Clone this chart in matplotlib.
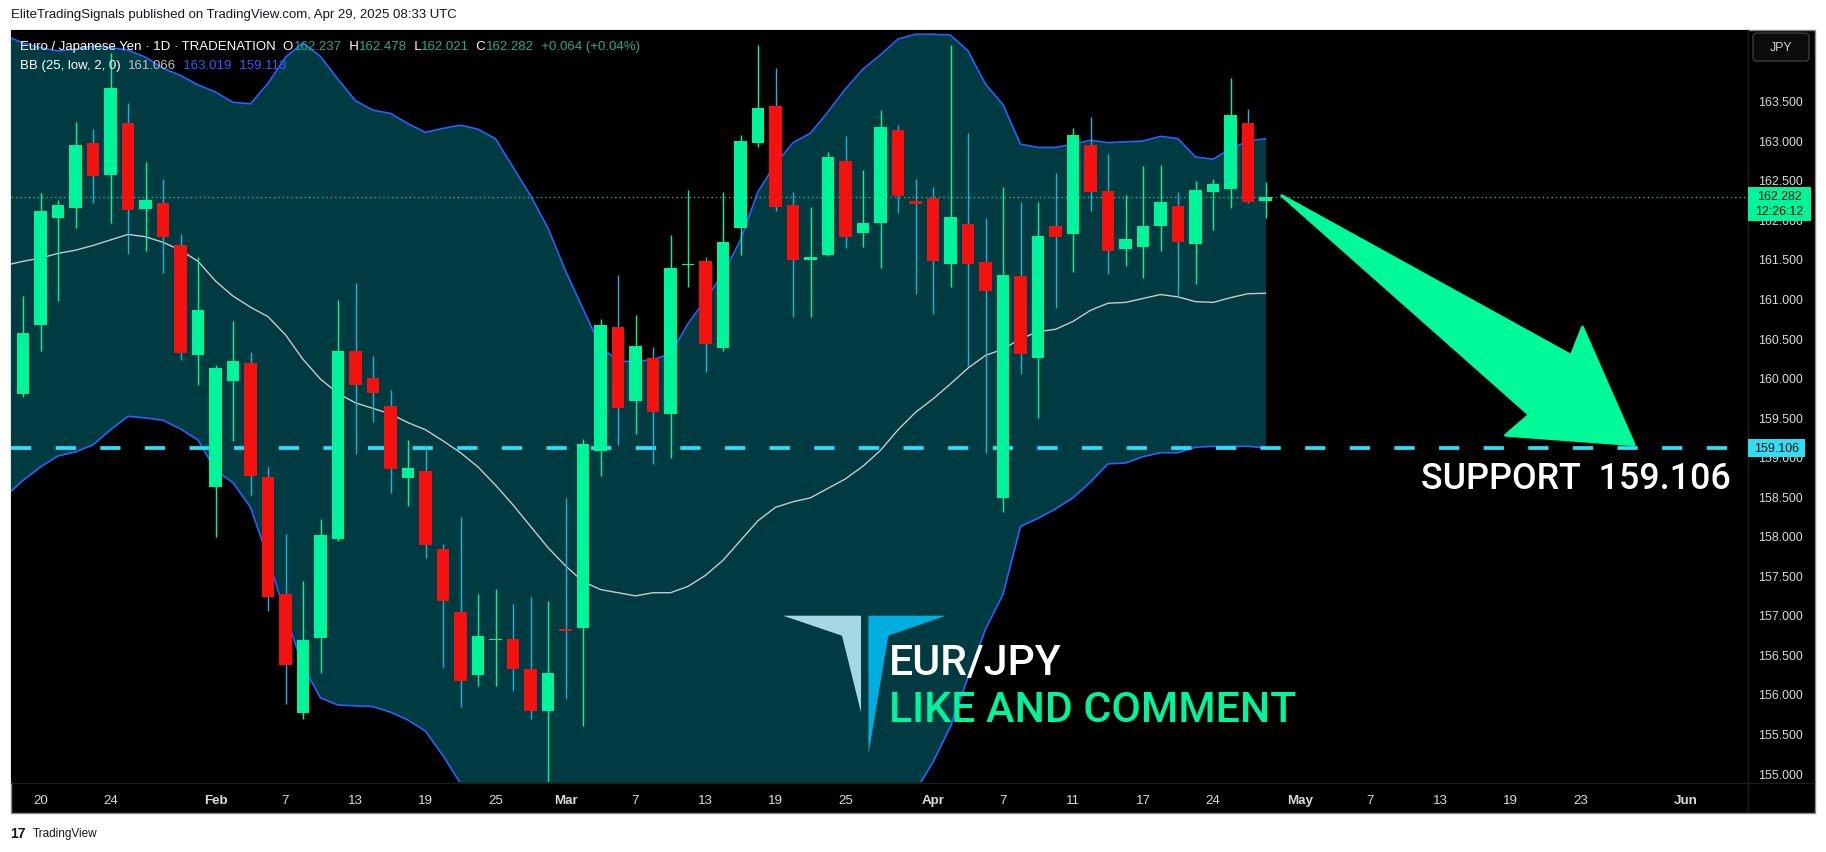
import numpy as np
import pandas as pd
import matplotlib
matplotlib.use('Agg')
import matplotlib.pyplot as plt
from matplotlib.patches import Polygon, Rectangle, FancyBboxPatch
from matplotlib.transforms import Affine2D
from matplotlib.ticker import FormatStrFormatter

plt.rcParams['font.family'] = ['Liberation Sans', 'DejaVu Sans']

W, H = 1826, 853

# EUR/JPY daily candles, 17 Jan .. 29 Apr 2025 (no bar on Good Friday)
opens = [159.79, 160.67, 162.02, 162.14, 162.97, 162.56, 163.22, 162.13, 162.21, 161.68,
         160.29, 158.62, 159.96, 160.18, 158.74, 157.26, 155.76, 156.71, 157.96, 160.34,
         159.99, 159.64, 158.73, 158.82, 157.83, 157.04, 156.24, 156.68, 156.70, 156.32,
         155.79, 156.82, 156.84, 159.07, 160.64, 159.70, 160.25, 159.54, 161.42, 161.47,
         160.37, 161.89, 162.97, 163.43, 162.18, 161.48, 161.55, 162.74, 161.83, 161.95,
         163.13, 162.23, 162.27, 161.43, 161.94, 161.46, 158.48, 161.28, 160.25, 161.92,
         161.81, 162.94, 162.36, 161.62, 161.65, 161.91, 162.17, 161.69, 162.35, 162.39,
         163.22, 162.237]
highs = [161.03, 162.33, 162.24, 163.23, 163.14, 164.10, 163.47, 162.72, 162.51, 161.81,
         161.52, 160.16, 160.71, 160.32, 158.87, 158.02, 157.43, 158.21, 160.98, 161.20,
         160.27, 159.84, 159.21, 159.14, 157.90, 158.24, 157.26, 157.33, 157.14, 157.22,
         157.18, 158.48, 159.22, 160.74, 161.30, 160.79, 160.39, 161.80, 162.37, 161.53,
         162.34, 163.07, 164.20, 163.91, 162.35, 162.16, 162.85, 163.05, 162.62, 163.38,
         163.19, 162.51, 162.41, 164.20, 163.09, 162.02, 162.41, 162.22, 162.22, 162.59,
         163.15, 163.30, 162.83, 162.31, 162.68, 162.69, 162.35, 162.48, 162.51, 163.79,
         163.40, 162.478]
lows = [159.75, 160.34, 160.97, 161.89, 162.21, 161.95, 161.56, 161.60, 161.32, 160.22,
        159.91, 157.99, 159.20, 158.51, 157.05, 155.87, 155.68, 156.27, 157.93, 159.03,
        159.44, 158.54, 158.38, 157.72, 156.34, 155.83, 156.10, 156.10, 156.04, 155.68,
        154.88, 155.93, 155.60, 158.75, 159.15, 159.29, 158.91, 158.98, 161.15, 160.07,
        160.33, 161.55, 162.91, 162.10, 160.76, 160.76, 161.54, 161.64, 161.65, 161.38,
        162.08, 161.06, 160.80, 161.14, 160.14, 159.04, 158.30, 160.04, 159.49, 160.88,
        161.33, 162.10, 161.31, 161.41, 161.26, 161.60, 161.02, 161.18, 161.86, 162.14,
        162.21, 162.021]
closes = [160.56, 162.11, 162.18, 162.94, 162.55, 163.66, 162.12, 162.25, 161.78, 160.31,
          160.85, 160.12, 160.21, 158.75, 157.23, 156.37, 156.68, 158.01, 160.34, 159.90,
          159.80, 158.84, 158.86, 157.88, 157.17, 156.17, 156.73, 156.70, 156.31, 155.78,
          156.27, 156.80, 159.16, 160.67, 159.62, 160.40, 159.56, 161.38, 161.44, 160.43,
          161.71, 162.99, 163.41, 162.15, 161.48, 161.52, 162.79, 161.78, 161.95, 163.17,
          162.29, 162.20, 161.47, 162.03, 161.44, 161.10, 161.30, 160.30, 161.79, 161.78,
          163.07, 162.35, 161.60, 161.75, 161.92, 162.22, 161.72, 162.37, 162.45, 163.32,
          162.22, 162.282]

# BB (25, low, 2), one value per bar from 16 Jan
bb_upper = [164.32, 164.23, 164.17, 164.13, 164.15, 164.19, 164.17, 164.14, 164.05, 163.91,
            163.82, 163.70, 163.61, 163.48, 163.46, 163.72, 164.05, 164.23, 164.06, 163.77,
            163.50, 163.38, 163.34, 163.21, 163.10, 163.15, 163.19, 163.14, 163.02, 162.66,
            162.30, 161.89, 161.35, 160.87, 160.39, 160.21, 160.20, 160.23, 160.30, 160.68,
            160.99, 161.31, 161.74, 162.35, 162.70, 162.97, 163.09, 163.36, 163.65, 163.90,
            164.08, 164.28, 164.34, 164.34, 164.33, 164.13, 163.71, 163.45, 162.95, 162.91,
            162.91, 162.95, 163.00, 162.97, 162.98, 162.99, 163.05, 163.02, 162.79, 162.76,
            162.89, 162.99, 163.019]
bb_basis = [161.42, 161.47, 161.51, 161.57, 161.61, 161.67, 161.74, 161.81, 161.78, 161.71,
            161.61, 161.47, 161.22, 161.03, 160.89, 160.77, 160.54, 160.23, 159.98, 159.80,
            159.68, 159.61, 159.54, 159.43, 159.34, 159.20, 159.05, 158.87, 158.64, 158.39,
            158.12, 157.85, 157.62, 157.42, 157.32, 157.28, 157.24, 157.28, 157.28, 157.36,
            157.50, 157.69, 157.94, 158.19, 158.36, 158.43, 158.48, 158.60, 158.72, 158.88,
            159.08, 159.34, 159.56, 159.73, 159.92, 160.12, 160.28, 160.36, 160.49, 160.58,
            160.61, 160.71, 160.85, 160.94, 160.95, 161.00, 161.05, 161.02, 160.96, 160.95,
            161.01, 161.06, 161.066]
bb_lower = [158.50, 158.70, 158.87, 159.01, 159.06, 159.15, 159.34, 159.51, 159.49, 159.46,
            159.35, 159.21, 158.83, 158.67, 158.36, 157.72, 157.00, 156.35, 155.95, 155.86,
            155.85, 155.84, 155.77, 155.67, 155.53, 155.22, 154.87, 154.60, 154.27, 154.12,
            153.95, 153.80, 153.89, 153.98, 154.25, 154.36, 154.29, 154.33, 154.25, 154.05,
            154.01, 154.08, 154.14, 154.04, 154.03, 153.89, 153.86, 153.84, 153.80, 153.86,
            154.09, 154.39, 154.77, 155.14, 155.59, 156.21, 156.82, 157.26, 158.12, 158.22,
            158.34, 158.48, 158.68, 158.91, 158.92, 159.00, 159.05, 159.05, 159.12, 159.13,
            159.13, 159.13, 159.113]

support = 159.106
last_price = 162.282

tick_dates = ['2025-01-20', '2025-01-24', '2025-02-03', '2025-02-07', '2025-02-13', '2025-02-19',
              '2025-02-25', '2025-03-03', '2025-03-07', '2025-03-13', '2025-03-19', '2025-03-25',
              '2025-04-01', '2025-04-07', '2025-04-11', '2025-04-17', '2025-04-24', '2025-05-01',
              '2025-05-07', '2025-05-13', '2025-05-19', '2025-05-23', '2025-06-02']
tick_labels = ['20', '24', 'Feb', '7', '13', '19', '25', 'Mar', '7', '13', '19', '25',
               'Apr', '7', '11', '17', '24', 'May', '7', '13', '19', '23', 'Jun']

# arrow drawing (bar index, price)
arrow_pts = [(71.93, 162.30), (88.47, 160.28), (89.11, 160.64), (92.07, 159.15),
             (84.71, 159.27), (86.07, 159.53)]

GREEN = '#00F59B'
RED = '#F3120F'
RED_WICK = '#1FB2D8'
BLUE = '#2962FF'
BAND = '#013B42'
CYAN = '#2FDDF5'
TEAL = '#22AB94'
BIG_FONT = ['Roboto', 'Liberation Sans', 'DejaVu Sans']

# top-left pixel coordinates -> display
pix = Affine2D().scale(1, -1).translate(0, H)

fig = plt.figure(figsize=(W / 100, H / 100), dpi=100, facecolor='white')
fig.patches.append(Rectangle((10.5, 30.5), 1804, 783, transform=pix, facecolor='black',
                             edgecolor='#8a8a8a', lw=1, zorder=-2))

ax = fig.add_axes([11 / W, 1 - 783 / H, (1748 - 11) / W, (783 - 31) / H])
ax.set_facecolor('black')
for s in ax.spines.values():
    s.set_visible(False)

# bollinger bands
bx = np.arange(-1, len(bb_upper) - 1)
ax.fill_between(bx, bb_lower, bb_upper, color=BAND, lw=0, zorder=1)
ax.plot(bx, bb_upper, color=BLUE, lw=1.2, zorder=2)
ax.plot(bx, bb_lower, color=BLUE, lw=1.2, zorder=2)
ax.plot(bx, bb_basis, color='#C9C9C9', lw=1.0, zorder=2)

# lines
ax.axhline(support, color=CYAN, lw=2.7, dashes=(5.4, 6.5), zorder=3)
ax.axhline(last_price, color='#10D9A0', lw=0.9, ls=(0, (1, 2.5)), zorder=3)

# candles
o, h, l, c = map(np.array, (opens, highs, lows, closes))
x = np.arange(len(o))
up = c >= o
ax.vlines(x, l, h, colors=np.where(up, GREEN, RED_WICK), lw=1.0, zorder=4)
ax.bar(x, np.maximum(np.abs(c - o), 0.015), bottom=np.minimum(o, c), width=0.74,
       color=np.where(up, GREEN, RED), lw=0, zorder=5)

# arrow + support text
ax.add_patch(Polygon(arrow_pts, closed=True, fc='#00FA9A', ec='#00FA9A', lw=2,
                     joinstyle='round', zorder=6, clip_on=False))
ax.text(79.89, 158.604, 'SUPPORT  159.106', fontsize=25.8, color='white', va='baseline',
        family=BIG_FONT, fontweight='medium', zorder=7)

# axes
ax.set_xlim(-0.686, 98.571)
ax.set_ylim(154.887, 164.394)
ax.yaxis.tick_right()
ax.set_yticks(np.arange(155.0, 163.6, 0.5))
ax.yaxis.set_major_formatter(FormatStrFormatter('%.3f'))
ax.tick_params(axis='y', length=0, pad=7.5, labelsize=8.9, labelcolor='#DADADA')

days = pd.bdate_range('2025-01-16', '2025-06-13').drop(pd.Timestamp('2025-04-18'))
pos = {d.strftime('%Y-%m-%d'): k - 1 for k, d in enumerate(days)}
ax.set_xticks([pos[d] for d in tick_dates], tick_labels)
ax.tick_params(axis='x', length=0, pad=8.5, labelsize=9.6, labelcolor='#DADADA')
for t in ax.get_xticklabels():
    if t.get_text().isalpha():
        t.set_fontweight('bold')

# separators
fig.lines.append(plt.Line2D([1748, 1748], [31, 813], transform=pix, color='#1e1e1e', lw=1))
fig.lines.append(plt.Line2D([11, 1814], [783.5, 783.5], transform=pix, color='#1e1e1e', lw=1))

# price labels on the scale
fig.patches.append(Rectangle((1748, 187.7), 63, 34, transform=pix, fc=GREEN, lw=0, zorder=3))
fig.text(1779.5, 197.5, '162.282', transform=pix, ha='center', va='center', fontsize=8.9, color='#0b0b0b')
fig.text(1779.5, 212, '12:26:12', transform=pix, ha='center', va='center', fontsize=8.9, color='#0b0b0b')
fig.patches.append(Rectangle((1748, 439.5), 57, 18.5, transform=pix, fc=CYAN, lw=0, zorder=3))
fig.text(1776.5, 449, '159.106', transform=pix, ha='center', va='center', fontsize=8.9, color='#0b0b0b')

fig.patches.append(FancyBboxPatch((1753, 34), 56, 28, boxstyle='round,pad=0,rounding_size=4',
                                  transform=pix, fc='#0c0c0c', ec='#3a3a3a', lw=1, zorder=3))
fig.text(1781, 48, 'JPY', transform=pix, ha='center', va='center', fontsize=8.9, color='#D0D0D0')

# watermark logo and texts
fig.patches.append(Polygon([(783.1, 616.7), (861, 616.7), (861, 713.3), (842, 636.7)],
                           transform=pix, fc='#A6D8E3', lw=0, zorder=2))
fig.patches.append(Polygon([(868.5, 616.7), (946, 616.7), (888.3, 636.7), (868.5, 755)],
                           transform=pix, fc='#00ADDF', lw=0, zorder=2))
fig.text(889, 675, 'EUR/JPY', transform=pix, fontsize=30.8, color='white', va='baseline',
         family=BIG_FONT, fontweight='medium')
fig.text(889, 721.7, 'LIKE AND COMMENT', transform=pix, fontsize=30.8, color=GREEN, va='baseline',
         family=BIG_FONT, fontweight='medium')


def chain(x0, y0, parts, size):
    r = fig.canvas.get_renderer()
    for s, col in parts:
        t = fig.text(x0, y0, s, transform=pix, color=col, fontsize=size, va='center')
        x0 += t.get_window_extent(r).width


chain(20.5, 47, [('Euro / Japanese Yen \u00b7 1D \u00b7 TRADENATION  O', 'white'), ('162.237', TEAL),
                 ('  H', 'white'), ('162.478', TEAL), ('  L', 'white'), ('162.021', TEAL),
                 ('  C', 'white'), ('162.282', TEAL), ('  +0.064 (+0.04%)', TEAL)], 9.5)
chain(20.5, 66.5, [('BB (25, low, 2, 0)  ', 'white'), ('161.066', '#C0C0C0'),
                   ('  163.019', BLUE), ('  159.113', BLUE)], 9.5)

fig.text(11, 15, 'EliteTradingSignals published on TradingView.com, Apr 29, 2025 08:33 UTC',
         transform=pix, va='center', fontsize=9.5, color='#131722')
fig.text(10, 834, '17', transform=pix, va='center', fontsize=10, fontweight='bold', color='#131722')
fig.text(33, 834, 'TradingView', transform=pix, va='center', fontsize=8.5, color='#131722')

fig.savefig('out.png', dpi=100, facecolor='white')
